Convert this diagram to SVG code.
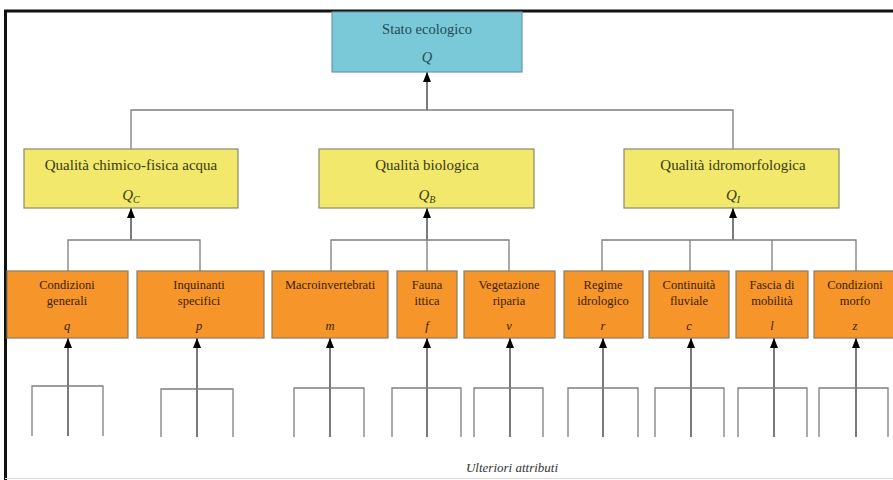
<svg xmlns="http://www.w3.org/2000/svg" width="893" height="480" viewBox="0 0 893 480" font-family="'Liberation Serif', 'DejaVu Serif', serif">
<style>
text{font-family:'Liberation Serif','DejaVu Serif',serif;text-anchor:middle}
.top{fill:#79c9d9;stroke:#6a9aa6;stroke-width:1.2}
.mid{fill:#f1e86c;stroke:#8a8a70;stroke-width:1.2}
.bot{fill:#f6962a;stroke:#8a7a66;stroke-width:1.2}
.tt{font-size:14.5px;fill:#234a52}
.mt{font-size:15px;fill:#3a3a12}
.bt{font-size:12.5px;fill:#3a2000}
.v{font-style:italic}
.g{stroke:#7f7f7f;stroke-width:1.3;fill:none}
.a{stroke:#333;stroke-width:1.3;fill:none;marker-end:url(#ah)}
</style>
<defs>
<marker id="ah" viewBox="0 0 10 8" refX="10" refY="4" markerWidth="10" markerHeight="8" markerUnits="userSpaceOnUse" orient="auto">
<path d="M0,0 L10,4 L0,8 z" fill="#000"/>
</marker>
</defs>
<rect x="0" y="0" width="893" height="480" fill="#fff"/>
<g id="frame">
<line x1="4" y1="11" x2="893" y2="11" stroke="#111" stroke-width="3"/>
<line x1="5.5" y1="10" x2="5.5" y2="480" stroke="#111" stroke-width="3"/>
<line x1="5" y1="478.5" x2="893" y2="478.5" stroke="#ddd" stroke-width="1"/>
</g>
<g id="connectors">
<line class="a" x1="427" y1="110" x2="427" y2="72"/>
<polyline class="g" points="131,149 131,110 733,110 733,149"/>
<line class="a" x1="131" y1="240" x2="131" y2="208"/>
<polyline class="g" points="68,271 68,240 200,240 200,271"/>
<line class="a" x1="427" y1="240" x2="427" y2="208"/>
<polyline class="g" points="331,271 331,240 509,240 509,271"/>
<line class="g" x1="427" y1="240" x2="427" y2="271"/>
<line class="a" x1="733" y1="240" x2="733" y2="208"/>
<polyline class="g" points="602,271 602,240 856,240 856,271"/>
<line class="g" x1="690" y1="240" x2="690" y2="271"/>
<line class="g" x1="772" y1="240" x2="772" y2="271"/>
<g id="sub-attributes">
<line class="a" x1="68" y1="436" x2="68" y2="338"/>
<polyline class="g" points="32,436 32,386 103,386 103,436"/>
<line class="a" x1="197" y1="437" x2="197" y2="338"/>
<polyline class="g" points="161,437 161,389 233,389 233,437"/>
<line class="a" x1="330" y1="437" x2="330" y2="338"/>
<polyline class="g" points="294,437 294,388 364,388 364,437"/>
<line class="a" x1="427" y1="437" x2="427" y2="338"/>
<polyline class="g" points="392,437 392,388 461,388 461,437"/>
<line class="a" x1="510" y1="437" x2="510" y2="338"/>
<polyline class="g" points="474,437 474,388 543,388 543,437"/>
<line class="a" x1="603" y1="437" x2="603" y2="338"/>
<polyline class="g" points="568,437 568,388 638,388 638,437"/>
<line class="a" x1="691" y1="437" x2="691" y2="338"/>
<polyline class="g" points="655,437 655,388 724,388 724,437"/>
<line class="a" x1="774" y1="437" x2="774" y2="338"/>
<polyline class="g" points="738,437 738,388 807,388 807,437"/>
<line class="a" x1="856" y1="437" x2="856" y2="338"/>
<polyline class="g" points="819,437 819,388 888,388 888,437"/>
</g>
</g>
<g id="stato-ecologico">
<rect class="top" x="332" y="12" width="190" height="60"/>
<text class="tt" x="427" y="34">Stato ecologico</text>
<text class="tt v" x="427" y="62">Q</text>
</g>
<g id="qualita-chimico-fisica">
<rect class="mid" x="24" y="149" width="214" height="59"/>
<text class="mt" x="131" y="170">Qualità chimico-fisica acqua</text>
<text class="mt v" x="131" y="200">Q<tspan font-size="10" dy="3">C</tspan></text>
</g>
<g id="qualita-biologica">
<rect class="mid" x="319" y="149" width="215" height="59"/>
<text class="mt" x="427" y="170">Qualità biologica</text>
<text class="mt v" x="427" y="200">Q<tspan font-size="10" dy="3">B</tspan></text>
</g>
<g id="qualita-idromorfologica">
<rect class="mid" x="624" y="149" width="215" height="59"/>
<text class="mt" x="733" y="170">Qualità idromorfologica</text>
<text class="mt v" x="733" y="200">Q<tspan font-size="10" dy="3">I</tspan></text>
</g>
<g id="condizioni-generali">
<rect class="bot" x="7" y="271" width="121" height="67"/>
<text class="bt" x="67" y="289">Condizioni</text>
<text class="bt" x="67" y="305">generali</text>
<text class="bt v" x="67" y="330">q</text>
</g>
<g id="inquinanti-specifici">
<rect class="bot" x="137" y="271" width="127" height="67"/>
<text class="bt" x="199" y="289">Inquinanti</text>
<text class="bt" x="199" y="305">specifici</text>
<text class="bt v" x="199" y="330">p</text>
</g>
<g id="macroinvertebrati">
<rect class="bot" x="272" y="271" width="116" height="67"/>
<text class="bt" x="330" y="289">Macroinvertebrati</text>
<text class="bt v" x="330" y="330">m</text>
</g>
<g id="fauna-ittica">
<rect class="bot" x="397" y="271" width="60" height="67"/>
<text class="bt" x="427" y="289">Fauna</text>
<text class="bt" x="427" y="305">ittica</text>
<text class="bt v" x="427" y="330">f</text>
</g>
<g id="vegetazione-riparia">
<rect class="bot" x="464" y="271" width="91" height="67"/>
<text class="bt" x="509" y="289">Vegetazione</text>
<text class="bt" x="509" y="305">riparia</text>
<text class="bt v" x="509" y="330">v</text>
</g>
<g id="regime-idrologico">
<rect class="bot" x="564" y="271" width="79" height="67"/>
<text class="bt" x="603" y="289">Regime</text>
<text class="bt" x="603" y="305">idrologico</text>
<text class="bt v" x="603" y="330">r</text>
</g>
<g id="continuita-fluviale">
<rect class="bot" x="649" y="271" width="80" height="67"/>
<text class="bt" x="689" y="289">Continuità</text>
<text class="bt" x="689" y="305">fluviale</text>
<text class="bt v" x="689" y="330">c</text>
</g>
<g id="fascia-mobilita">
<rect class="bot" x="736" y="271" width="72" height="67"/>
<text class="bt" x="772" y="289">Fascia di</text>
<text class="bt" x="772" y="305">mobilità</text>
<text class="bt v" x="772" y="330">l</text>
</g>
<g id="condizioni-morfo">
<rect class="bot" x="814" y="271" width="85" height="67"/>
<text class="bt" x="855" y="289">Condizioni</text>
<text class="bt" x="855" y="305">morfo</text>
<text class="bt v" x="855" y="330">z</text>
</g>
<g id="ulteriori-attributi">
<text x="512" y="472" font-size="13" font-style="italic" fill="#333">Ulteriori attributi</text>
</g>
</svg>
